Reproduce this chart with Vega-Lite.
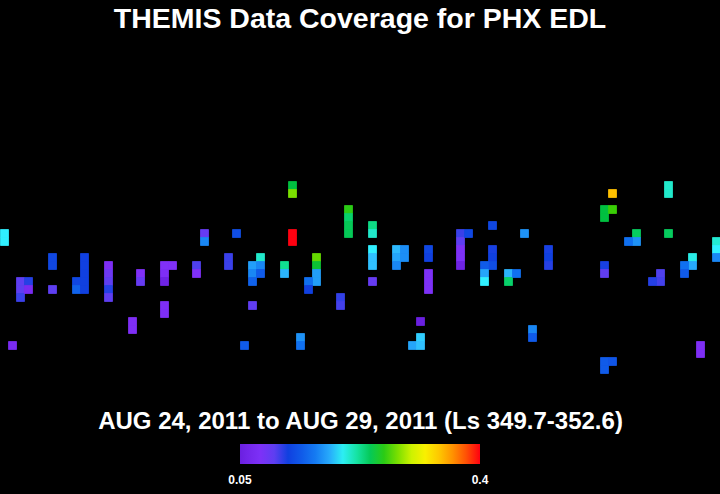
{
  "$schema": "https://vega.github.io/schema/vega-lite/v6.json",
  "width": 720,
  "height": 352,
  "autosize": {"type": "none"},
  "padding": {"top": 45, "left": 0, "right": 0, "bottom": 97},
  "background": "black",
  "config": {"view": {"stroke": null}},
  "title": {
    "text": "THEMIS Data Coverage for PHX EDL",
    "font": "Liberation Sans",
    "fontSize": 28.5,
    "fontWeight": "bold",
    "color": "white",
    "anchor": "middle",
    "offset": 12
  },
  "data": {
    "values": [
      {"c": 0, "r": 23, "v": 0.197}, {"c": 0, "r": 24, "v": 0.197},
      {"c": 2, "r": 29, "v": 0.1}, {"c": 2, "r": 30, "v": 0.1}, {"c": 2, "r": 31, "v": 0.11},
      {"c": 3, "r": 29, "v": 0.115}, {"c": 3, "r": 30, "v": 0.07},
      {"c": 6, "r": 26, "v": 0.125}, {"c": 6, "r": 27, "v": 0.125}, {"c": 6, "r": 30, "v": 0.1},
      {"c": 9, "r": 29, "v": 0.125}, {"c": 9, "r": 30, "v": 0.145},
      {"c": 10, "r": 26, "v": 0.12}, {"c": 10, "r": 27, "v": 0.12}, {"c": 10, "r": 28, "v": 0.12}, {"c": 10, "r": 29, "v": 0.12}, {"c": 10, "r": 30, "v": 0.12},
      {"c": 13, "r": 27, "v": 0.075}, {"c": 13, "r": 28, "v": 0.09}, {"c": 13, "r": 29, "v": 0.1}, {"c": 13, "r": 30, "v": 0.115}, {"c": 13, "r": 31, "v": 0.1},
      {"c": 1, "r": 37, "v": 0.07},
      {"c": 25, "r": 23, "v": 0.095}, {"c": 25, "r": 24, "v": 0.165},
      {"c": 29, "r": 23, "v": 0.13},
      {"c": 28, "r": 26, "v": 0.11}, {"c": 28, "r": 27, "v": 0.11},
      {"c": 24, "r": 27, "v": 0.105}, {"c": 24, "r": 28, "v": 0.078},
      {"c": 20, "r": 27, "v": 0.078}, {"c": 20, "r": 28, "v": 0.075}, {"c": 20, "r": 29, "v": 0.055},
      {"c": 21, "r": 27, "v": 0.078},
      {"c": 17, "r": 28, "v": 0.078}, {"c": 17, "r": 29, "v": 0.095},
      {"c": 20, "r": 32, "v": 0.075}, {"c": 20, "r": 33, "v": 0.075},
      {"c": 16, "r": 34, "v": 0.075}, {"c": 16, "r": 35, "v": 0.075},
      {"c": 36, "r": 17, "v": 0.246}, {"c": 36, "r": 18, "v": 0.28},
      {"c": 36, "r": 23, "v": 0.4}, {"c": 36, "r": 24, "v": 0.4},
      {"c": 43, "r": 20, "v": 0.26}, {"c": 43, "r": 21, "v": 0.235}, {"c": 43, "r": 22, "v": 0.24}, {"c": 43, "r": 23, "v": 0.24},
      {"c": 31, "r": 27, "v": 0.175}, {"c": 31, "r": 28, "v": 0.165}, {"c": 31, "r": 29, "v": 0.145},
      {"c": 32, "r": 26, "v": 0.21}, {"c": 32, "r": 27, "v": 0.165}, {"c": 32, "r": 28, "v": 0.14},
      {"c": 35, "r": 27, "v": 0.225}, {"c": 35, "r": 28, "v": 0.185},
      {"c": 39, "r": 26, "v": 0.275}, {"c": 39, "r": 27, "v": 0.25}, {"c": 39, "r": 28, "v": 0.175}, {"c": 39, "r": 29, "v": 0.175},
      {"c": 38, "r": 29, "v": 0.155}, {"c": 38, "r": 30, "v": 0.12},
      {"c": 42, "r": 31, "v": 0.112}, {"c": 42, "r": 32, "v": 0.108},
      {"c": 31, "r": 32, "v": 0.098},
      {"c": 30, "r": 37, "v": 0.14},
      {"c": 37, "r": 36, "v": 0.17}, {"c": 37, "r": 37, "v": 0.155},
      {"c": 46, "r": 22, "v": 0.228}, {"c": 46, "r": 23, "v": 0.21},
      {"c": 46, "r": 25, "v": 0.197}, {"c": 46, "r": 26, "v": 0.19}, {"c": 46, "r": 27, "v": 0.19},
      {"c": 49, "r": 25, "v": 0.187}, {"c": 49, "r": 26, "v": 0.178}, {"c": 49, "r": 27, "v": 0.165},
      {"c": 50, "r": 25, "v": 0.168}, {"c": 50, "r": 26, "v": 0.168},
      {"c": 53, "r": 25, "v": 0.125}, {"c": 53, "r": 26, "v": 0.12},
      {"c": 53, "r": 28, "v": 0.08}, {"c": 53, "r": 29, "v": 0.08}, {"c": 53, "r": 30, "v": 0.08},
      {"c": 46, "r": 29, "v": 0.095},
      {"c": 57, "r": 23, "v": 0.11}, {"c": 57, "r": 24, "v": 0.1}, {"c": 57, "r": 25, "v": 0.08}, {"c": 57, "r": 26, "v": 0.08}, {"c": 57, "r": 27, "v": 0.055},
      {"c": 58, "r": 23, "v": 0.125},
      {"c": 52, "r": 34, "v": 0.05},
      {"c": 51, "r": 37, "v": 0.178},
      {"c": 52, "r": 36, "v": 0.192}, {"c": 52, "r": 37, "v": 0.19},
      {"c": 61, "r": 22, "v": 0.125},
      {"c": 65, "r": 23, "v": 0.17},
      {"c": 61, "r": 25, "v": 0.118}, {"c": 61, "r": 26, "v": 0.12}, {"c": 61, "r": 27, "v": 0.13},
      {"c": 60, "r": 27, "v": 0.14}, {"c": 60, "r": 28, "v": 0.178}, {"c": 60, "r": 29, "v": 0.197},
      {"c": 63, "r": 28, "v": 0.185}, {"c": 63, "r": 29, "v": 0.235},
      {"c": 64, "r": 28, "v": 0.155},
      {"c": 68, "r": 25, "v": 0.118}, {"c": 68, "r": 26, "v": 0.12}, {"c": 68, "r": 27, "v": 0.115},
      {"c": 66, "r": 35, "v": 0.165}, {"c": 66, "r": 36, "v": 0.14},
      {"c": 76, "r": 18, "v": 0.344},
      {"c": 83, "r": 17, "v": 0.21}, {"c": 83, "r": 18, "v": 0.21},
      {"c": 75, "r": 20, "v": 0.246}, {"c": 75, "r": 21, "v": 0.246},
      {"c": 76, "r": 20, "v": 0.265},
      {"c": 79, "r": 23, "v": 0.238}, {"c": 79, "r": 24, "v": 0.17},
      {"c": 78, "r": 24, "v": 0.155},
      {"c": 83, "r": 23, "v": 0.238},
      {"c": 89, "r": 24, "v": 0.208}, {"c": 89, "r": 25, "v": 0.197}, {"c": 89, "r": 26, "v": 0.165},
      {"c": 75, "r": 27, "v": 0.118}, {"c": 75, "r": 28, "v": 0.098},
      {"c": 86, "r": 26, "v": 0.203}, {"c": 86, "r": 27, "v": 0.18},
      {"c": 85, "r": 27, "v": 0.155}, {"c": 85, "r": 28, "v": 0.14},
      {"c": 82, "r": 28, "v": 0.105}, {"c": 82, "r": 29, "v": 0.108},
      {"c": 81, "r": 29, "v": 0.115},
      {"c": 87, "r": 37, "v": 0.075}, {"c": 87, "r": 38, "v": 0.075},
      {"c": 75, "r": 39, "v": 0.14}, {"c": 75, "r": 40, "v": 0.14},
      {"c": 76, "r": 39, "v": 0.135}
    ]
  },
  "mark": {"type": "rect", "binSpacing": 0, "strokeWidth": 0.8, "stroke": {"expr": "scale('color', datum.v)"}},
  "encoding": {
    "x": {
      "field": "c",
      "type": "quantitative",
      "bin": {"binned": true, "step": 1},
      "scale": {"domain": [0, 90], "nice": false, "zero": false},
      "axis": {
        "title": "AUG 24, 2011 to AUG 29, 2011 (Ls 349.7-352.6)",
        "titleFont": "Liberation Sans",
        "titleFontSize": 24,
        "titleFontWeight": "bold",
        "titleColor": "white",
        "titlePadding": 12,
        "labels": false,
        "ticks": false,
        "domain": false,
        "grid": false
      }
    },
    "y": {
      "field": "r",
      "type": "quantitative",
      "bin": {"binned": true, "step": 1},
      "scale": {"domain": [0, 44], "nice": false, "zero": false, "reverse": true},
      "axis": null
    },
    "color": {
      "field": "v",
      "type": "quantitative",
      "scale": {
        "type": "linear",
        "domain": [0.05, 0.078, 0.1025, 0.12, 0.155, 0.19, 0.197, 0.225, 0.246, 0.267, 0.295, 0.316, 0.344, 0.372, 0.4],
        "range": ["#6a20e0", "#8030f8", "#5a40f0", "#1040e0", "#1070f0", "#30c0ff", "#30f0ff", "#10e090", "#00c040", "#40d000", "#c0f000", "#f8f800", "#ffc000", "#ff7000", "#ff0010"],
        "interpolate": "rgb"
      },
      "legend": {
        "orient": "none",
        "legendX": 240,
        "legendY": 399,
        "direction": "horizontal",
        "title": null,
        "padding": 0,
        "gradientLength": 240,
        "gradientThickness": 20,
        "gradientStrokeWidth": 0,
        "values": [0.05, 0.4],
        "format": ".2~f",
        "labelColor": "white",
        "labelFont": "Liberation Sans",
        "labelFontSize": 12,
        "labelFontWeight": "bold",
        "labelOffset": 11,
        "encode": {"labels": {"update": {"align": {"value": "center"}}}}
      }
    }
  }
}
